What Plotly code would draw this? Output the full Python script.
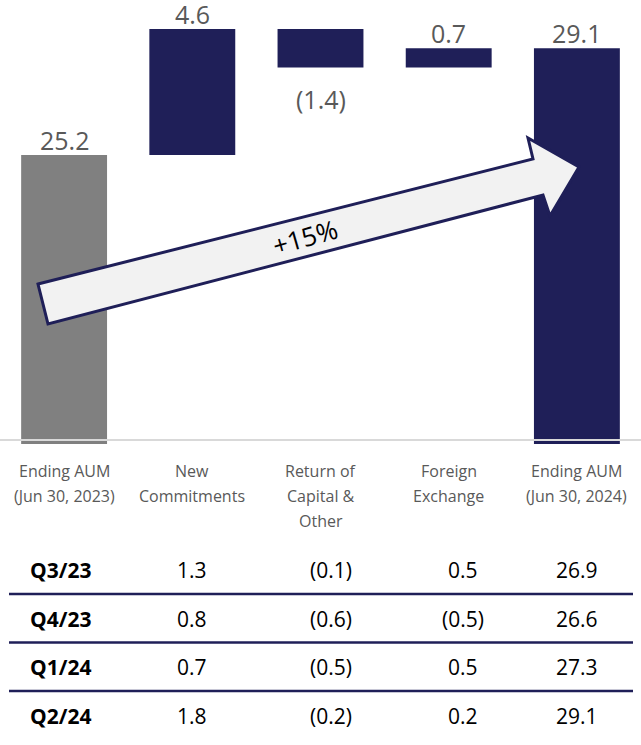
import plotly.graph_objects as go

# ---------------- data ----------------
categories = ["Ending AUM<br>(Jun 30, 2023)", "New<br>Commitments",
              "Return of<br>Capital &<br>Other", "Foreign<br>Exchange",
              "Ending AUM<br>(Jun 30, 2024)"]
changes = [25.2, 4.6, -1.4, 0.7, 29.1]
kinds = ["total", "delta", "delta", "delta", "total"]

quarters = ["Q3/23", "Q4/23", "Q1/24", "Q2/24"]
q_new = [1.3, 0.8, 0.7, 1.8]
q_return = [-0.1, -0.6, -0.5, -0.2]
q_fx = [0.5, -0.5, 0.5, 0.2]
q_ending = [26.9, 26.6, 27.3, 29.1]
growth_label = "+15%"

# ---------------- styling ----------------
NAVY = "#1f1f58"
GRAY = "#808080"
TXT_GRAY = "#595959"
FONT = "Open Sans"
W, H = 641, 745
PLOT_BOTTOM = 444  # pixel y of plot-area bottom


def fmt(v):
    return f"({abs(v):.1f})" if v < 0 else f"{v:.1f}"


def px_x(x):
    return x / W


def px_y(y):
    return (PLOT_BOTTOM - y) / PLOT_BOTTOM


bases, heights, ends = [], [], []
running = 0.0
for v, k in zip(changes, kinds):
    if k == "total":
        bases.append(0)
        heights.append(v)
        running = v
    else:
        bases.append(running)
        heights.append(v)
        running += v
    ends.append(running)

colors = [GRAY] + [NAVY] * (len(changes) - 1)
xs = list(range(len(categories)))

fig = go.Figure()
fig.add_trace(go.Bar(
    x=xs, y=heights, base=bases,
    marker=dict(color=colors, line=dict(width=0)),
    hoverinfo="skip",
))

annotations = []
shapes = []

# value labels at the end of each bar
for i, (v, e) in enumerate(zip(changes, ends)):
    annotations.append(dict(
        x=i, xref="x", y=e, yref="y", text=fmt(v), showarrow=False,
        xanchor="center", yanchor="middle",
        yshift=15 if v >= 0 else -32,
        font=dict(family=FONT, size=25, color=TXT_GRAY)))

# category labels (one annotation per line)
for i, cat in enumerate(categories):
    for j, line in enumerate(cat.split("<br>")):
        annotations.append(dict(
            x=i, xref="x", y=px_y(471 + 25 * j), yref="paper",
            text=line, showarrow=False, xanchor="center", yanchor="middle",
            font=dict(family=FONT, size=16, color=TXT_GRAY)))

# baseline
shapes.append(dict(type="line", xref="paper", yref="paper",
                   x0=0, x1=1, y0=px_y(440), y1=px_y(440),
                   line=dict(color="#d9d9d9", width=2)))

# growth arrow
pts = [(38, 284), (533, 159), (528, 138), (579, 167), (550, 216),
       (543, 195), (48, 324)]
path = "M " + " L ".join(f"{px_x(x):.5f},{px_y(y):.5f}" for x, y in pts) + " Z"
shapes.append(dict(type="path", xref="paper", yref="paper", path=path,
                   fillcolor="#f2f2f2", line=dict(color=NAVY, width=3)))
annotations.append(dict(x=px_x(305), y=px_y(237), xref="paper", yref="paper",
                        text=growth_label, showarrow=False, textangle=-16,
                        font=dict(family=FONT, size=26, color="#000000")))

# table
col_x = [192, 331, 463, 577]
row_y = [570, 618.5, 667, 715.5]
for r, q in enumerate(quarters):
    annotations.append(dict(x=px_x(28), y=px_y(row_y[r]), xref="paper", yref="paper",
                            text=f"<b>{q}</b>", showarrow=False,
                            xanchor="left", yanchor="middle",
                            font=dict(family=FONT, size=21, color="#000000")))
    vals = [q_new[r], q_return[r], q_fx[r], q_ending[r]]
    for c, v in enumerate(vals):
        annotations.append(dict(x=px_x(col_x[c]), y=px_y(row_y[r]), xref="paper", yref="paper",
                                text=fmt(v), showarrow=False,
                                xanchor="center", yanchor="middle",
                                font=dict(family=FONT, size=21, color="#000000")))
for yl in [594, 642.5, 691]:
    shapes.append(dict(type="line", xref="paper", yref="paper",
                       x0=px_x(9), x1=px_x(633), y0=px_y(yl), y1=px_y(yl),
                       line=dict(color=NAVY, width=2.5)))

fig.update_layout(
    width=W, height=H,
    margin=dict(l=0, r=0, t=0, b=H - PLOT_BOTTOM),
    plot_bgcolor="white", paper_bgcolor="white",
    showlegend=False,
    bargap=0.33,
    xaxis=dict(range=[-0.5, 4.5], showticklabels=False, showgrid=False,
               zeroline=False, showline=False, fixedrange=True),
    yaxis=dict(range=[14.65, 30.86], visible=False, showgrid=False,
               zeroline=False, fixedrange=True),
    annotations=annotations,
    shapes=shapes,
)

fig.write_html(
    "out.html",
    config={"displayModeBar": False},
    post_script="document.body.style.margin='0px';document.body.style.overflow='hidden';",
)
